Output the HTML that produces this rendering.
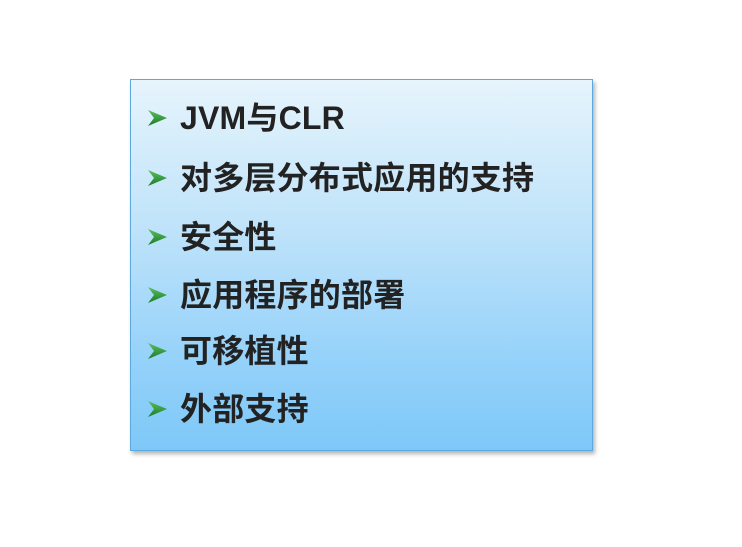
<!DOCTYPE html>
<html><head><meta charset="utf-8"><style>
html,body{margin:0;padding:0;background:#fff;width:742px;height:547px;overflow:hidden}
.box{position:absolute;left:130px;top:79px;width:461px;height:370px;border:1px solid #5ba9de;
background:linear-gradient(to bottom,#e6f4fc 0%,#bfe3fa 40%,#96d2fa 75%,#7ec8f8 100%);
box-shadow:2px 3px 4px rgba(0,0,0,0.3)}
.row{position:absolute;left:180px;height:40px;line-height:40px;font-family:"Liberation Sans","Noto Sans CJK SC",sans-serif;font-weight:bold;font-size:32px;letter-spacing:0.2px;color:#222}
</style></head><body>
<div class="box"></div>
<svg width="742" height="547" style="position:absolute;left:0;top:0">
<defs><linearGradient id="g" x1="0" y1="0" x2="0" y2="1"><stop offset="0" stop-color="#5cc05c"/><stop offset="1" stop-color="#1a7a2a"/></linearGradient></defs>
<g fill="url(#g)">
<path d="M148,110 L167,118 L148,126 L154,118Z"/>
<path d="M148,170 L167,178 L148,186 L154,178Z"/>
<path d="M148,229 L167,237 L148,245 L154,237Z"/>
<path d="M148,287 L167,295 L148,303 L154,295Z"/>
<path d="M148,343 L167,351 L148,359 L154,351Z"/>
<path d="M148,401 L167,409 L148,417 L154,409Z"/>
</g></svg>
<div class="row" style="top:98px">JVM与CLR</div>
<div class="row" style="top:158px">对多层分布式应用的支持</div>
<div class="row" style="top:217px">安全性</div>
<div class="row" style="top:275px">应用程序的部署</div>
<div class="row" style="top:331px">可移植性</div>
<div class="row" style="top:389px">外部支持</div>
</body></html>
